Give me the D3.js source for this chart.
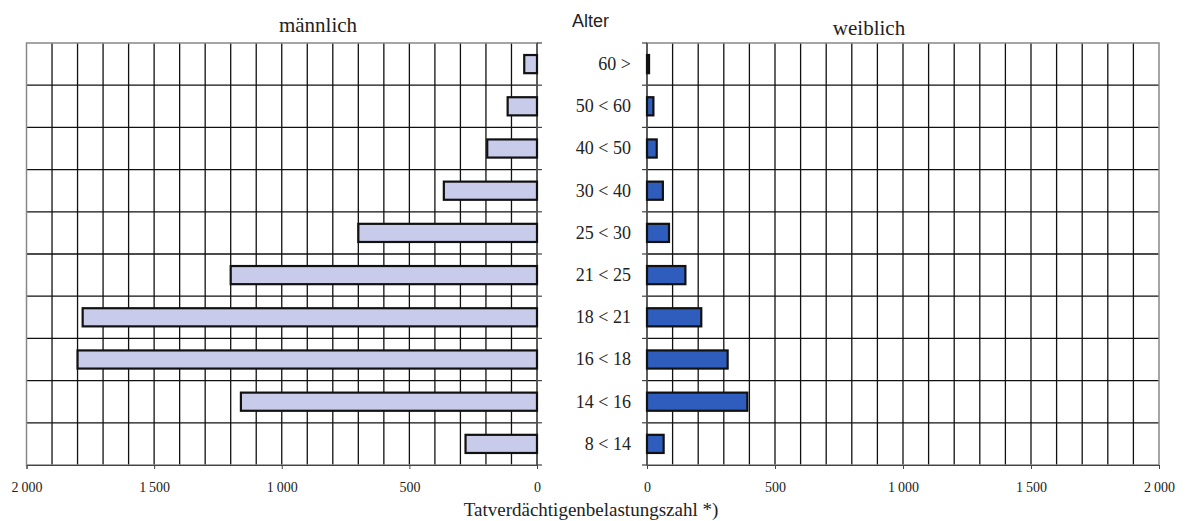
<!DOCTYPE html>
<html>
<head>
<meta charset="utf-8">
<script src="https://cdn.jsdelivr.net/npm/d3@7"></script>
<style>
  body { margin: 0; background: #fff; }
  text { font-family: "Liberation Serif", "Times New Roman", serif; fill: #222; }
</style>
</head>
<body>
<div id="chart"></div>
<script>
// age groups, top to bottom
var ageGroups = ["60 >", "50 < 60", "40 < 50", "30 < 40", "25 < 30", "21 < 25", "18 < 21", "16 < 18", "14 < 16", "8 < 14"];
// Tatverdächtigenbelastungszahl per group
var maleValues = [50, 115, 195, 365, 700, 1200, 1780, 1800, 1160, 280];
var femaleValues = [8, 25, 38, 62, 86, 150, 212, 315, 392, 65];
var tickValues = [0, 500, 1000, 1500, 2000];

var width = 1187, height = 521;
var plotTop = 43, plotBottom = 465;

var svg = d3.select("#chart")
  .append("svg")
    .attr("width", width)
    .attr("height", height);

var y = d3.scaleBand()
  .domain(ageGroups)
  .range([plotTop, plotBottom])
  .padding(0);

var xMale = d3.scaleLinear().domain([2000, 0]).range([26.5, 537]);
var xFemale = d3.scaleLinear().domain([0, 2000]).range([647, 1159]);

var fmt = function(d) { return d >= 1000 ? d3.format(",")(d).replace(",", "\u2009") : d; };

function panel(x, values, fill, side) {
  var g = svg.append("g");
  var x0 = x.range()[0], x1 = x.range()[1];
  var left = Math.min(x0, x1), right = Math.max(x0, x1);

  // vertical grid every 100
  g.selectAll(".vg")
    .data(d3.range(100, 2000, 100))
    .enter().append("line")
      .attr("x1", d => x(d)).attr("x2", d => x(d))
      .attr("y1", plotTop).attr("y2", plotBottom)
      .attr("stroke", "#111").attr("stroke-width", 1.3);

  // horizontal grid at row borders
  g.selectAll(".hg")
    .data(ageGroups.slice(1))
    .enter().append("line")
      .attr("x1", left).attr("x2", right)
      .attr("y1", d => y(d)).attr("y2", d => y(d))
      .attr("stroke", "#111").attr("stroke-width", 1.3);

  // outer frame
  g.append("rect")
    .attr("x", left).attr("y", plotTop)
    .attr("width", right - left).attr("height", plotBottom - plotTop)
    .attr("fill", "none").attr("stroke", "#888").attr("stroke-width", 1.5);

  // value axis
  var axis = d3.axisBottom(x).tickValues(tickValues).tickSize(4).tickFormat(fmt);
  var ax = g.append("g").attr("transform", "translate(0," + plotBottom + ")").call(axis);
  ax.select(".domain").attr("stroke", "#444");
  ax.selectAll(".tick line").attr("stroke", "#444");
  ax.selectAll(".tick text")
    .attr("y", 17)
    .style("font-family", "'Liberation Serif', serif")
    .style("font-size", "14px")
    .attr("fill", "#222");

  // category axis line with outward ticks
  var zeroX = x(0);
  var dir = side === "left" ? 1 : -1;
  g.append("line")
    .attr("x1", zeroX).attr("x2", zeroX)
    .attr("y1", plotTop).attr("y2", plotBottom)
    .attr("stroke", "#444").attr("stroke-width", 1.5);
  g.selectAll(".yt")
    .data(ageGroups.concat(["end"]))
    .enter().append("line")
      .attr("x1", zeroX).attr("x2", zeroX + dir * 5)
      .attr("y1", (d, i) => plotTop + i * y.step())
      .attr("y2", (d, i) => plotTop + i * y.step())
      .attr("stroke", "#444").attr("stroke-width", 1.2);

  // bars
  var bh = y.bandwidth() * 0.43;
  g.selectAll(".bar")
    .data(values)
    .enter().append("rect")
      .attr("x", d => Math.min(x(0), x(d)))
      .attr("y", (d, i) => y(ageGroups[i]) + (y.bandwidth() - bh) / 2)
      .attr("width", d => Math.abs(x(d) - x(0)))
      .attr("height", bh)
      .attr("fill", fill)
      .attr("stroke", "#111")
      .attr("stroke-width", 2.2);
}

panel(xMale, maleValues, "#c8cbea", "left");
panel(xFemale, femaleValues, "#2f5dbd", "right");

// age labels
svg.selectAll(".age")
  .data(ageGroups)
  .enter().append("text")
    .attr("x", 631)
    .attr("y", d => y(d) + y.bandwidth() / 2)
    .attr("dy", "0.33em")
    .attr("text-anchor", "end")
    .style("font-size", "18px")
    .text(d => d);

svg.append("text")
  .attr("x", 572).attr("y", 27)
  .style("font-family", "'Liberation Sans', Arial, sans-serif")
  .style("font-size", "18px")
  .text("Alter");

svg.append("text")
  .attr("x", 318).attr("y", 32)
  .attr("text-anchor", "middle")
  .style("font-size", "21px")
  .text("männlich");

svg.append("text")
  .attr("x", 869).attr("y", 35)
  .attr("text-anchor", "middle")
  .style("font-size", "21px")
  .text("weiblich");

svg.append("text")
  .attr("x", 591).attr("y", 516)
  .attr("text-anchor", "middle")
  .style("font-size", "19px")
  .text("Tatverdächtigenbelastungszahl *)");
</script>
</body>
</html>
